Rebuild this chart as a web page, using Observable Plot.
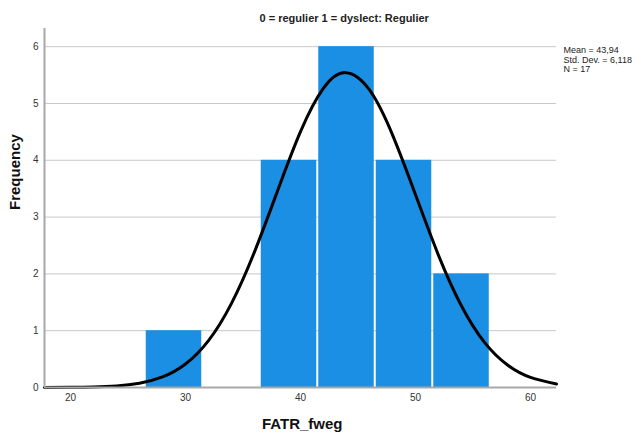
<!DOCTYPE html>
<html>
<head>
<meta charset="utf-8">
<script src="https://cdn.jsdelivr.net/npm/d3@7"></script>
<script src="https://cdn.jsdelivr.net/npm/@observablehq/plot@0.6"></script>
<style>
  html, body { margin: 0; padding: 0; background: #fff; }
  #chart { position: relative; width: 637px; height: 432px; }
  #chart svg { position: absolute; left: 0; top: 0; }
</style>
</head>
<body>
<div id="chart"></div>
<script>
// Histogram bins (FATR_fweg) and counts
const binStart = [26.5, 36.5, 41.5, 46.5, 51.5];
const binEnd   = [31.5, 41.5, 46.5, 51.5, 56.5];
const counts   = [1, 4, 6, 4, 2];

// Normal curve
const curveX = [17.74, 20, 22, 24, 26, 28, 30, 32, 34, 36, 38, 40, 42, 43.94, 46, 48, 50, 52, 54, 56, 58, 60, 62.26];
const curveY = [0.001, 0.003, 0.009, 0.027, 0.075, 0.186, 0.414, 0.825, 1.481, 2.388, 3.460, 4.505, 5.271, 5.543, 5.238, 4.448, 3.394, 2.327, 1.434, 0.794, 0.395, 0.177, 0.063];

const xTicks = [20, 30, 40, 50, 60];
const yTicks = [0, 1, 2, 3, 4, 5, 6];

const titleText = "0 = regulier 1 = dyslect: Regulier";
const statsLines = ["Mean = 43,94", "Std. Dev. = 6,118", "N = 17"];
const xLabel = "FATR_fweg";
const yLabel = "Frequency";

const bars = binStart.map((s, i) => ({x1: s, x2: binEnd[i], y: counts[i]}));
const curve = curveX.map((x, i) => ({x, y: curveY[i]}));

const W = 637, H = 432;
const mL = 44, mR = 81, mT = 28, mB = 45;

const chart = Plot.plot({
  width: W,
  height: H,
  marginLeft: mL,
  marginRight: mR,
  marginTop: mT,
  marginBottom: mB,
  style: {fontFamily: "'Liberation Sans', Arial, sans-serif", background: "#fff"},
  x: {domain: [17.74, 62.26], label: null},
  y: {domain: [0, 6.32], label: null},
  marks: [
    Plot.ruleY(yTicks.filter(d => d > 0), {stroke: "#c8c8c8", strokeWidth: 1}),
    Plot.rectY(bars, {x1: "x1", x2: "x2", y: "y", fill: "#1a8fe3", insetLeft: 1, insetRight: 1}),
    Plot.line(curve, {x: "x", y: "y", curve: "natural", stroke: "#000", strokeWidth: 3}),
    Plot.ruleX([17.74], {stroke: "#a8a8a8", strokeWidth: 2}),
    Plot.ruleY([0], {stroke: "#a8a8a8", strokeWidth: 2}),
    Plot.axisX(xTicks, {tickSize: 0, tickPadding: 6, fontSize: 10, fill: "#333", label: null, tickFormat: "d"}),
    Plot.axisY(yTicks, {tickSize: 0, tickPadding: 6, fontSize: 10, fill: "#333", label: null, tickFormat: "d"}),
    Plot.text([titleText], {frameAnchor: "top", x: 43.8, dy: -mT + 18, fontSize: 11, fontWeight: "bold", fill: "#222", lineAnchor: "middle"}),
    Plot.text([xLabel], {x: 40.15, frameAnchor: "bottom", dy: 37, fontSize: 15, fill: "#111", fontWeight: "bold", lineAnchor: "middle"}),
    Plot.text([yLabel], {frameAnchor: "left", dx: -29, dy: 2, rotate: -90, fontSize: 15, fill: "#111", fontWeight: "bold"}),
    Plot.text([statsLines.join("\n")], {frameAnchor: "top-right", dx: 7, dy: 18, textAnchor: "start", lineAnchor: "top", fontSize: 9, fill: "#222", lineHeight: 1.05})
  ]
});
document.getElementById("chart").appendChild(chart);
</script>
</body>
</html>
